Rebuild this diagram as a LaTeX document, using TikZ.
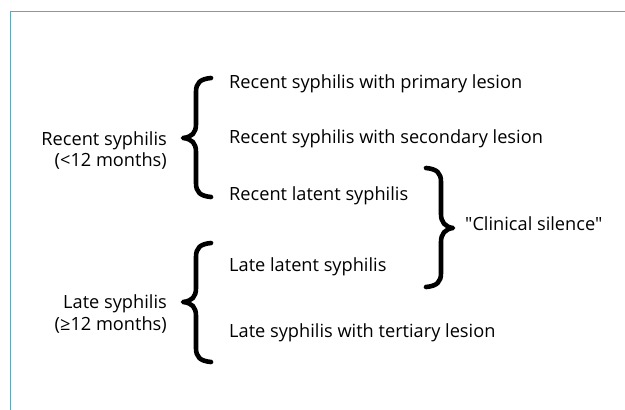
\documentclass[tikz,border=0pt]{standalone}
\usepackage{fontspec}
\newfontfamily\osf{Open Sans}
\begin{document}
\begin{tikzpicture}[x=1pt,y=-1pt,
  lbl/.style={anchor=base west,inner sep=0pt,font=\osf\fontsize{18.2}{22}\selectfont},
  grp/.style={anchor=base east,inner sep=0pt,font=\osf\fontsize{18.2}{22}\selectfont,align=right},
  brace/.style={line width=4.6pt,line cap=round,line join=round},
  frame/.style={draw={rgb,255:red,96;green,168;blue,184},line width=1.6pt}]
\useasboundingbox (0,0) rectangle (625,410);
\fill[white] (0,0) rectangle (625,410);
\draw[frame] (10.5,412) -- (10.5,11.5) -- (627,11.5);

\node[lbl] (t1) at (229,88) {Recent syphilis with primary lesion};
\node[lbl] (t2) at (229,143) {Recent syphilis with secondary lesion};
\node[lbl] (t3) at (229,200) {Recent latent syphilis};
\node[lbl] (t4) at (229,271) {Late latent syphilis};
\node[lbl] (t5) at (229,337) {Late syphilis with tertiary lesion};

\node[grp] (g1) at (167,145) {Recent syphilis};
\node[grp] (g1b) at (167,166) {(<12 months)};
\node[grp] (g2) at (167,308) {Late syphilis};
\node[grp] (g2b) at (167,330) {(≥12 months)};
\node[lbl] (cs) at (465,230) {"Clinical silence"};

% left brace 1
\draw[brace] (211,78) .. controls (200,79) and (196,83) .. (196,92)
  -- (196,124) .. controls (196,133) and (192,137) .. (183,138)
  .. controls (192,139) and (196,143) .. (196,152)
  -- (196,183) .. controls (196,192) and (200,196) .. (211,197);
% left brace 2
\draw[brace] (211,243) .. controls (200,244) and (196,248) .. (196,257)
  -- (196,288) .. controls (196,297) and (192,301) .. (183,302)
  .. controls (192,303) and (196,307) .. (196,316)
  -- (196,348) .. controls (196,357) and (200,361) .. (211,362);
% right brace
\draw[brace] (426,168) .. controls (437,169) and (441,173) .. (441,182)
  -- (441,214) .. controls (441,222) and (445,227) .. (453,228)
  .. controls (445,229) and (441,234) .. (441,242)
  -- (441,273) .. controls (441,282) and (437,286) .. (426,287);
\end{tikzpicture}
\end{document}
